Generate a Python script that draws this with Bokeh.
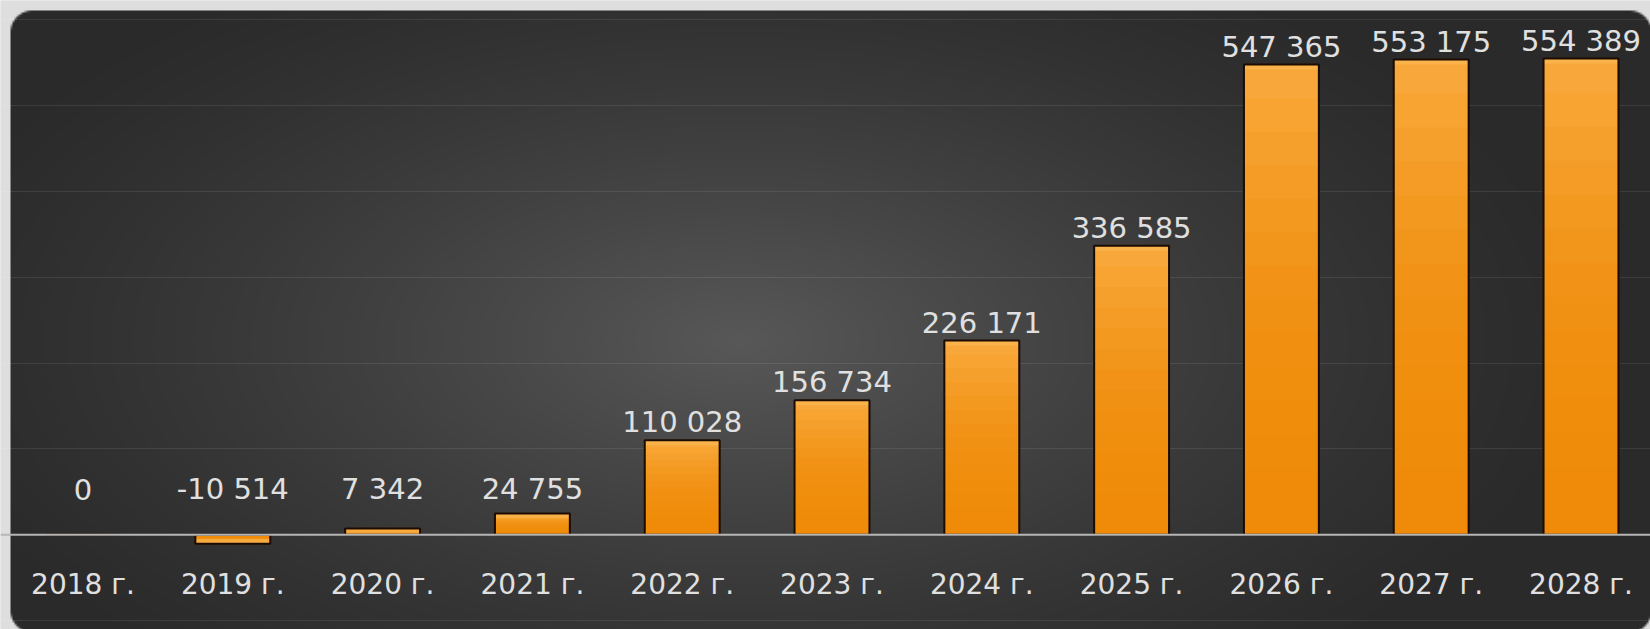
import numpy as np
from bokeh.plotting import figure
from bokeh.models import Range1d, Span, Grid, SingleIntervalTicker, ColumnDataSource
from bokeh.core.properties import value
from bokeh.embed import file_html
from bokeh.resources import INLINE

# ---------------- data ----------------
categories = ["2018 г.", "2019 г.", "2020 г.", "2021 г.", "2022 г.", "2023 г.",
              "2024 г.", "2025 г.", "2026 г.", "2027 г.", "2028 г."]
values = [0, -10514, 7342, 24755, 110028, 156734, 226171, 336585, 547365, 553175, 554389]
value_labels = ["0", "-10 514", "7 342", "24 755", "110 028", "156 734",
                "226 171", "336 585", "547 365", "553 175", "554 389"]
grid_step = 100000

# ---------------- geometry ----------------
W, H = 1650, 629
px_per_cat = 149.8
first_center = 82.5
px_per_unit = 85.9 / 100000.0
zero_px = 534.3

x_start = -first_center / px_per_cat
x_end = (W - first_center) / px_per_cat
y_top = zero_px / px_per_unit
y_bottom = -(H - zero_px) / px_per_unit

BG = np.array([222, 222, 222], float)

p = figure(width=W, height=H,
           x_range=Range1d(x_start, x_end), y_range=Range1d(y_bottom, y_top),
           output_backend="svg", toolbar_location=None,
           x_axis_location=None, y_axis_location=None,
           min_border=0, outline_line_color=None,
           background_fill_color="#dedede", border_fill_color="#dedede")
# drop default grids
p.center = [r for r in p.center if not isinstance(r, Grid)]

# ---------------- background panel (radial gradient, rounded) ----------------
step = 2
nx, ny = W // step, (H + 1) // step + 1
cxs = (np.arange(nx) + 0.5) * step
cys = (np.arange(ny) + 0.5) * step
X, Y = np.meshgrid(cxs, cys)  # canvas coords, Y from top
L, T, R, B, rad = 10.0, 10.0, 1651.0, 632.0, 22.0
mx, my = (L + R) / 2, (T + B) / 2
hw, hh = (R - L) / 2, (B - T) / 2
dx = np.abs(X - mx) - (hw - rad)
dy = np.abs(Y - my) - (hh - rad)
sd = np.sqrt(np.maximum(dx, 0) ** 2 + np.maximum(dy, 0) ** 2) + np.minimum(np.maximum(dx, dy), 0) - rad
alpha = np.clip(0.5 - sd / step, 0, 1)
de = np.sqrt(((X - 740) / 880.0) ** 2 + ((Y - 340) / 440.0) ** 2)
f = np.clip(1 - de, 0, 1) ** 1.3
g = 42 + 46 * f
col = g[..., None] * alpha[..., None] + BG[None, None, :] * (1 - alpha[..., None])
rgba = np.zeros((ny, nx, 4), dtype=np.uint8)
rgba[..., 0] = col[..., 0]
rgba[..., 1] = col[..., 1]
rgba[..., 2] = col[..., 2]
rgba[..., 3] = 255
img = rgba[::-1].copy().view(dtype=np.uint32).reshape((ny, nx))
dw = nx * step / px_per_cat
dh = ny * step / px_per_unit
p.image_rgba(image=[img], x=x_start, y=y_top - dh, dw=dw, dh=dh, level="image")

# ---------------- grid ----------------
grid = Grid(dimension=1, ticker=SingleIntervalTicker(interval=grid_step),
            grid_line_color="white", grid_line_alpha=0.09, grid_line_width=1)
p.add_layout(grid)

# ---------------- bars ----------------
xs = list(range(len(categories)))
vals = np.array(values, dtype=float)
n_layers = 14
bottom_c = np.array([239, 139, 8], float)
top_c = np.array([248, 168, 58], float)
for k in range(n_layers):
    frac = (n_layers - k) / n_layers
    c = bottom_c + (top_c - bottom_c) * frac ** 2.2
    hexc = "#%02x%02x%02x" % tuple(int(round(v)) for v in c)
    p.vbar(x=xs, bottom=0, top=vals * frac, width=0.5,
           fill_color=hexc, line_color=None)
# light bevel at the value end of each bar (about 5 px)
bevel = 5 / px_per_unit
bevel_end = vals - np.sign(vals) * np.minimum(np.abs(vals), bevel)
p.vbar(x=xs, bottom=bevel_end, top=vals, width=0.5,
       fill_color="#fbb95a", fill_alpha=0.55, line_color=None)
p.vbar(x=xs, bottom=0, top=vals, width=0.5, fill_color=None,
       line_color="#1c0b00", line_width=2)

# zero line
p.add_layout(Span(location=0, dimension="width", line_color="#b6b6b6", line_width=2))

# ---------------- labels ----------------
label_floor = 32000
src = ColumnDataSource(dict(x=xs, cat=categories, lab=value_labels,
                            ly=np.maximum(vals, label_floor), zero=[0] * len(xs)))
font = value("DejaVu Sans")
p.text(x="x", y="zero", text="cat", source=src, text_align="center",
       text_baseline="alphabetic", y_offset=50, text_font=font,
       text_font_size="28px", text_color="#e0e0e0")
p.text(x="x", y="ly", text="lab", source=src, text_align="center",
       text_baseline="alphabetic", y_offset=-18, text_font=font,
       text_font_size="29px", text_color="#e0e0e0")

open("out.html", "w").write(file_html(p, INLINE))
